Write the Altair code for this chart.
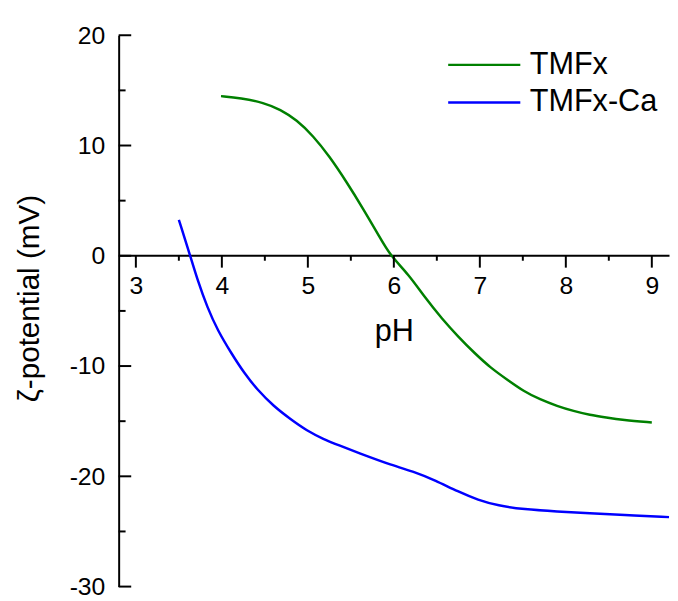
import altair as alt
import pandas as pd

# TMFx (green)
tmfx_ph = [3.99, 4.22, 4.49, 4.68, 4.87, 5.06, 5.25, 5.45, 5.64, 5.83, 5.96, 6.17, 6.36,
           6.56, 6.75, 6.94, 7.13, 7.32, 7.51, 7.70, 7.90, 8.09, 8.28, 8.47, 8.66, 9.0]
tmfx_zp = [14.48, 14.32, 13.87, 13.27, 12.32, 10.89, 9.03, 6.70, 4.31, 1.77, 0.0, -1.67, -3.77,
           -5.71, -7.35, -8.84, -10.19, -11.24, -12.29, -13.03, -13.63, -14.08, -14.44, -14.67, -14.89, -15.12]

# TMFx-Ca (blue)
ca_ph = [3.50, 3.63, 3.72, 3.83, 3.95, 4.11, 4.26, 4.41, 4.60, 4.80, 4.99, 5.18, 5.37, 5.58,
         5.98, 6.25, 6.48, 6.75, 6.98, 7.21, 7.51, 7.90, 8.28, 8.66, 9.20]
ca_zp = [3.26, 0.06, -2.27, -4.66, -6.75, -8.84, -10.64, -12.13, -13.63, -14.83, -15.87, -16.62, -17.22, -17.85,
         -19.01, -19.61, -20.36, -21.40, -22.15, -22.65, -22.99, -23.19, -23.35, -23.50, -23.70]

series_names = ["TMFx", "TMFx-Ca"]
series_colors = ["#008000", "#0000ff"]

x_major = [3, 4, 5, 6, 7, 8, 9]
x_minor = [3.5, 4.5, 5.5, 6.5, 7.5, 8.5]
y_major = [20, 10, 0, -10, -20, -30]
y_minor = [15, 5, -5, -15, -25]

rows = []
for p, z in zip(tmfx_ph, tmfx_zp):
    rows.append({"pH": p, "zeta": z, "series": "TMFx"})
for p, z in zip(ca_ph, ca_zp):
    rows.append({"pH": p, "zeta": z, "series": "TMFx-Ca"})
df = pd.DataFrame(rows)

FONT = "Liberation Sans"

lines = alt.Chart(df).mark_line(strokeWidth=2.5, interpolate="basis").encode(
    x=alt.X("pH:Q",
            scale=alt.Scale(domain=[2.8, 9.2], nice=False, zero=False),
            axis=alt.Axis(values=x_major, labelExpr="'' + datum.value", title="pH",
                          offset=-335.3, grid=False, ticks=False,
                          domainColor="black", domainWidth=2,
                          labelFont=FONT, labelFontSize=25, labelColor="black", labelPadding=19,
                          titleFont=FONT, titleFontSize=31, titleFontWeight="normal", titleColor="black",
                          titleY=86, titleBaseline="alphabetic")),
    y=alt.Y("zeta:Q",
            scale=alt.Scale(domain=[-30, 20], nice=False, zero=False),
            axis=alt.Axis(values=y_major, labelExpr="'' + datum.value", title="ζ-potential (mV)",
                          grid=False, domainColor="black", domainWidth=2, ticks=False,
                          labelFont=FONT, labelFontSize=25, labelColor="black", labelPadding=14,
                          titleFont=FONT, titleFontSize=30, titleFontWeight="normal", titleColor="black",
                          titleX=-90, titleY=266, titleBaseline="middle")),
    color=alt.Color("series:N",
                    scale=alt.Scale(domain=series_names, range=series_colors),
                    legend=alt.Legend(title=None, orient="none", legendX=332, legendY=15,
                                      symbolType="stroke", symbolSize=5329, symbolStrokeWidth=2.5,
                                      clipHeight=30, rowPadding=7,
                                      labelFont=FONT, labelFontSize=31, labelColor="black",
                                      labelOffset=8)),
)

ymaj = alt.Chart(pd.DataFrame({"zeta": y_major})).mark_rule(color="black", strokeWidth=2).encode(
    y=alt.Y("zeta:Q"), x=alt.value(0), x2=alt.value(12.7))
ymin = alt.Chart(pd.DataFrame({"zeta": y_minor})).mark_rule(color="black", strokeWidth=2).encode(
    y=alt.Y("zeta:Q"), x=alt.value(0), x2=alt.value(7))

xmaj = alt.Chart(pd.DataFrame({"pH": x_major})).mark_rule(color="black", strokeWidth=2, y2Offset=12).encode(
    x=alt.X("pH:Q"), y=alt.Y(datum=0), y2=alt.Y2(datum=0))
xmin = alt.Chart(pd.DataFrame({"pH": x_minor})).mark_rule(color="black", strokeWidth=2, y2Offset=5).encode(
    x=alt.X("pH:Q"), y=alt.Y(datum=0), y2=alt.Y2(datum=0))

chart = alt.layer(lines, ymaj, ymin, xmaj, xmin).properties(
    width=557, height=558,
    autosize=alt.AutoSizeParams(type="none"),
    padding={"left": 112, "top": 24, "right": 1, "bottom": 10},
).configure_view(stroke=None)

chart.save("out.html", embed_options={"renderer": "svg", "actions": False})
